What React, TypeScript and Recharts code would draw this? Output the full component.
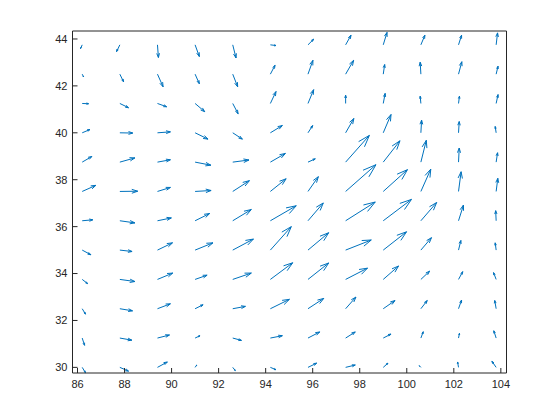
import React from 'react';
import { ComposedChart, XAxis, YAxis, ReferenceLine, Scatter } from 'recharts';

// grid of arrow tails
const LON = [86.2, 87.8, 89.4, 91.0, 92.6, 94.2, 95.8, 97.4, 99.0, 100.6, 102.2, 103.8];
const LAT = [30, 31.25, 32.5, 33.75, 35, 36.25, 37.5, 38.75, 40, 41.25, 42.5, 43.75];

// arrow components (already scaled, in axis units), one row per LAT
const U = [
  [0.14, 0.37, 0.42, 0.07, 0.11, 0.24, 0.37, 0.41, 0.20, -0.07, -0.04, -0.18],
  [0.10, 0.51, 0.51, 0.21, 0.37, 0.51, 0.50, 0.41, 0.33, 0.10, 0.04, -0.10],
  [0.14, 0.54, 0.55, 0.34, 0.54, 0.81, 0.67, 0.44, 0.50, 0.27, 0.13, -0.06],
  [0.23, 0.64, 0.65, 0.51, 0.79, 0.95, 0.88, 0.93, 0.65, 0.37, 0.18, -0.11],
  [0.37, 0.52, 0.64, 0.76, 0.88, 0.89, 0.88, 1.09, 0.99, 0.45, 0.10, -0.04],
  [0.45, 0.64, 0.59, 0.62, 0.79, 1.10, 0.65, 1.26, 1.20, 0.67, 0.21, -0.02],
  [0.58, 0.76, 0.55, 0.68, 0.71, 0.67, 0.44, 1.29, 1.03, 0.42, 0.11, 0.07],
  [0.41, 0.64, 0.55, 0.67, 0.69, 0.64, 0.31, 1.01, 0.71, 0.23, 0.03, 0.06],
  [0.33, 0.55, 0.55, 0.55, 0.41, 0.51, 0.20, 0.35, 0.33, 0.03, 0.03, -0.04],
  [0.27, 0.37, 0.39, 0.41, 0.23, 0.24, 0.24, 0.00, 0.08, -0.03, 0.04, 0.08],
  [0.06, 0.16, 0.24, 0.18, 0.21, 0.20, 0.21, 0.34, 0.06, -0.03, 0.14, 0.08],
  [-0.07, -0.14, 0.04, 0.18, 0.14, 0.24, 0.24, 0.23, 0.16, 0.17, 0.13, 0.06],
];
const V = [
  [-0.23, -0.16, 0.23, 0.10, -0.14, -0.10, 0.18, 0.10, 0.18, 0.07, 0.23, 0.26],
  [-0.31, -0.09, 0.13, 0.10, -0.10, 0.10, 0.26, 0.26, 0.17, 0.27, 0.20, 0.31],
  [-0.23, -0.09, 0.21, 0.17, 0.10, 0.40, 0.44, 0.50, 0.35, 0.35, 0.37, 0.35],
  [-0.18, -0.09, 0.27, 0.18, 0.27, 0.71, 0.70, 0.48, 0.57, 0.35, 0.33, 0.29],
  [-0.20, -0.06, 0.31, 0.31, 0.47, 1.00, 0.74, 0.43, 0.78, 0.53, 0.41, 0.31],
  [0.04, -0.09, 0.12, 0.31, 0.48, 0.64, 0.76, 0.80, 0.91, 0.78, 0.67, 0.43],
  [0.26, 0.01, 0.17, 0.04, 0.46, 0.54, 0.63, 1.14, 0.93, 0.95, 0.84, 0.56],
  [0.24, 0.18, 0.10, -0.13, 0.09, 0.37, 0.14, 1.14, 0.91, 0.93, 0.60, 0.40],
  [0.14, -0.01, 0.04, -0.27, -0.27, 0.31, 0.31, 0.61, 0.78, 0.54, 0.48, 0.27],
  [-0.01, -0.18, -0.14, -0.35, -0.44, 0.51, 0.59, 0.35, 0.43, 0.31, 0.31, 0.38],
  [-0.12, -0.33, -0.54, -0.41, -0.54, 0.38, 0.59, 0.59, 0.41, 0.51, 0.53, 0.34],
  [-0.16, -0.29, -0.54, -0.50, -0.56, -0.03, 0.24, 0.41, 0.53, 0.41, 0.41, 0.51],
];

const X_TICKS = [86, 88, 90, 92, 94, 96, 98, 100, 102, 104];
const Y_TICKS = [30, 32, 34, 36, 38, 40, 42, 44];
const X_DOMAIN: [number, number] = [85.787, 104.24];
const Y_DOMAIN: [number, number] = [29.76, 44.34];

const COLOR = '#0072BD';
const AXIS = '#262626';
const HEAD_A = 0.33;
const HEAD_B = 0.33;

type P = { x: number; y: number };
const points: P[] = [];
const segs: { key: string; a: P; b: P }[] = [];
LAT.forEach((lat, j) => {
  LON.forEach((lon, i) => {
    const u = U[j][i];
    const v = V[j][i];
    const tx = lon + u;
    const ty = lat + v;
    points.push({ x: lon, y: lat });
    segs.push({ key: `s${j}_${i}`, a: { x: lon, y: lat }, b: { x: tx, y: ty } });
    segs.push({
      key: `h1${j}_${i}`,
      a: { x: tx - HEAD_A * (u + HEAD_B * v), y: ty - HEAD_A * (v - HEAD_B * u) },
      b: { x: tx, y: ty },
    });
    segs.push({
      key: `h2${j}_${i}`,
      a: { x: tx - HEAD_A * (u - HEAD_B * v), y: ty - HEAD_A * (v + HEAD_B * u) },
      b: { x: tx, y: ty },
    });
  });
});

const tickStyle = { fill: AXIS, fontSize: 11, fontFamily: 'Liberation Sans' };

export default function App() {
  return (
    <ComposedChart
      width={552}
      height={404}
      margin={{ top: 23, right: 53.5, bottom: 9, left: 24.5 }}
    >
      <XAxis
        type="number"
        dataKey="x"
        domain={X_DOMAIN}
        ticks={X_TICKS}
        allowDataOverflow
        interval={0}
        height={30}
        tickSize={-5}
        tickMargin={12}
        axisLine={{ stroke: AXIS }}
        tickLine={{ stroke: AXIS }}
        tick={tickStyle}
      />
      <XAxis
        xAxisId="top"
        orientation="top"
        type="number"
        dataKey="x"
        domain={X_DOMAIN}
        ticks={X_TICKS}
        allowDataOverflow
        interval={0}
        height={10}
        mirror
        tickSize={5}
        axisLine={{ stroke: AXIS }}
        tickLine={{ stroke: AXIS }}
        tick={false}
      />
      <YAxis
        type="number"
        dataKey="y"
        domain={Y_DOMAIN}
        ticks={Y_TICKS}
        allowDataOverflow
        interval={0}
        width={40}
        tickSize={-5}
        tickMargin={10}
        axisLine={{ stroke: AXIS }}
        tickLine={{ stroke: AXIS }}
        tick={tickStyle}
      />
      <YAxis
        yAxisId="right"
        orientation="right"
        type="number"
        dataKey="y"
        domain={Y_DOMAIN}
        ticks={Y_TICKS}
        allowDataOverflow
        interval={0}
        width={10}
        mirror
        tickSize={5}
        axisLine={{ stroke: AXIS }}
        tickLine={{ stroke: AXIS }}
        tick={false}
      />
      <Scatter data={points} isAnimationActive={false} shape={() => <g />} />
      <Scatter
        data={points}
        xAxisId="top"
        yAxisId="right"
        isAnimationActive={false}
        shape={() => <g />}
      />
      {segs.map((s) => (
        <ReferenceLine
          key={s.key}
          segment={[s.a, s.b]}
          stroke={COLOR}
          strokeWidth={1}
          ifOverflow="visible"
        />
      ))}
    </ComposedChart>
  );
}
